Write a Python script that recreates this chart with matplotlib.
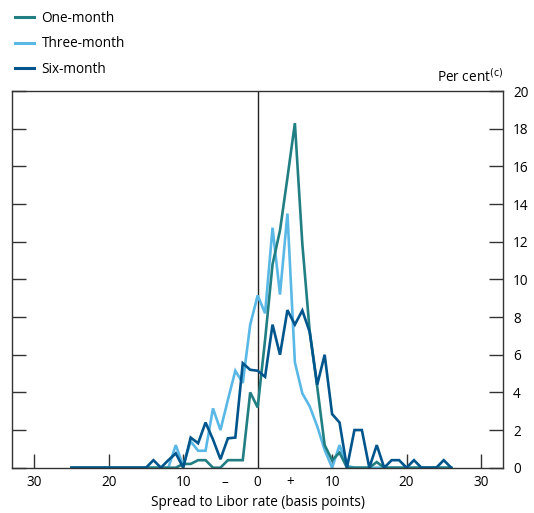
import matplotlib
import matplotlib.pyplot as plt
from matplotlib.lines import Line2D

matplotlib.use("Agg")

plt.rcParams["font.family"] = ["Open Sans", "DejaVu Sans"]

spread = list(range(-25, 27))

one_month = [0] * 15 + [
    0.2, 0.2, 0.4, 0.4, 0, 0, 0.4, 0.4, 0.4, 4.0,
    3.2, 6.8, 10.8, 12.6, 15.4, 18.3, 11.9, 7.2, 4.3, 1.2,
    0.4, 0.8, 0, 0, 0, 0, 0.3,
] + [0] * 10

three_month = [0] * 14 + [
    1.2, 0.1, 1.4, 0.9, 0.9, 3.15, 2.0, 3.6, 5.15, 4.5,
    7.6, 9.15, 8.2, 12.75, 9.2, 13.5, 5.6, 3.95, 3.25, 2.2,
    0.95, 0, 1.2, 0.1,
] + [0] * 14

six_month = [0] * 11 + [
    0.4, 0, 0.4, 0.76, 0, 1.6, 1.3, 2.4, 1.5, 0.45,
    1.56, 1.6, 5.55, 5.2, 5.15, 4.83, 7.6, 6.0, 8.37, 7.6,
    8.35, 7.2, 4.4, 6.0, 2.85, 2.4, 0, 2.0, 2.0, 0,
    1.2, 0, 0.4, 0.4, 0, 0.4, 0, 0, 0, 0.4, 0,
]

series = [
    ("One-month", one_month, "#217f84"),
    ("Three-month", three_month, "#5ab8e6"),
    ("Six-month", six_month, "#00568c"),
]

x_ticks = [-30, -20, -10, -4.4, 0, 4.4, 10, 20, 30]
x_labels = ["30", "20", "10", "\u2013", "0", "+", "10", "20", "30"]

fig = plt.figure(figsize=(5.34, 5.13), dpi=100)
ax = fig.add_axes([0.0225, 0.0883, 0.92, 0.734])

for name, vals, col in [series[1], series[0], series[2]]:
    ax.plot(spread, vals, color=col, lw=1.9, solid_joinstyle="miter")

ax.axvline(0, color="#222222", lw=1.0, zorder=1)

ax.set_xlim(-33, 33)
ax.set_ylim(0, 20)

ax.set_xticks(x_ticks)
ax.set_xticklabels(x_labels)
ax.tick_params(axis="x", direction="in", length=10, width=1, color="#333333",
               labelsize=9.8, pad=5)
for t in ax.xaxis.get_major_ticks():
    if abs(t.get_loc()) < 5:
        t.tick1line.set_visible(False)

ax.set_yticks(range(0, 21, 2))
ax.yaxis.tick_right()
ax.tick_params(axis="y", which="both", direction="in", length=10, width=1,
               color="#333333", labelsize=9.8, left=True, right=True,
               labelleft=False, labelright=True, pad=7)

for sp in ax.spines.values():
    sp.set_color("#333333")
    sp.set_linewidth(1.0)

ax.set_xlabel("Spread to Libor rate (basis points)", fontsize=9.8, labelpad=4)
ax.text(1.0, 1.015, "Per cent$^{\\rm (c)}$", transform=ax.transAxes,
        ha="right", va="bottom", fontsize=9.8)

handles = [Line2D([], [], color=c, lw=2.2) for _, _, c in series]
fig.legend(handles, [s[0] for s in series], loc="upper left",
           bbox_to_anchor=(0.005, 1.003), frameon=False, fontsize=9.8,
           handlelength=1.4, handletextpad=0.55, labelspacing=0.78)

fig.savefig("out.png", dpi=100)
